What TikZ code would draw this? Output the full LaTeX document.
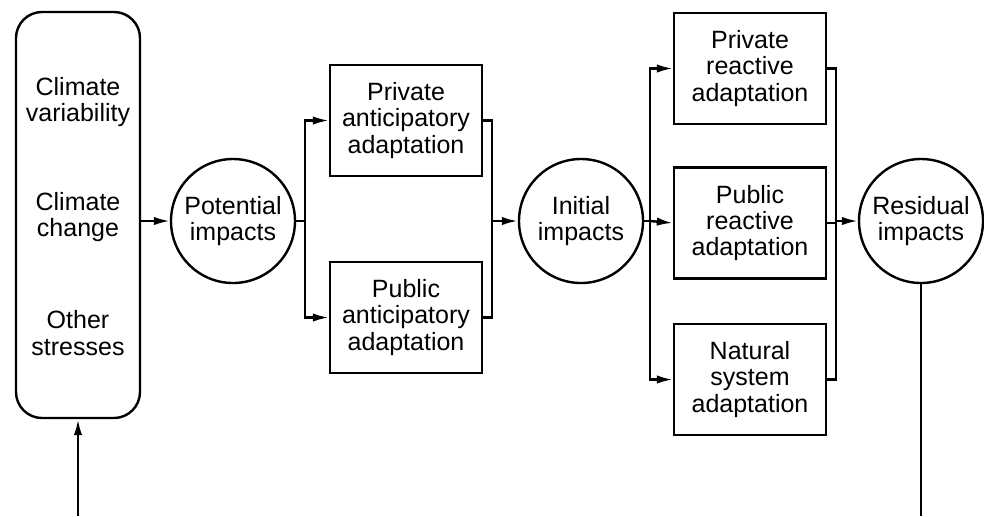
\documentclass[tikz,border=0pt]{standalone}
\usepackage{fontspec}
\setmainfont{Liberation Sans}
\usetikzlibrary{arrows.meta}

\tikzset{
	stage/.style={draw, line width=1.2pt, minimum width=76pt, minimum height=55.5pt, inner sep=0pt, align=center},
	impact/.style={draw, circle, line width=1.2pt, minimum size=62pt, inner sep=0pt, align=center},
	flow/.style={line width=1.2pt},
}

\begin{document}
\begin{tikzpicture}[x=0.5pt,y=-0.5pt, font=\fontsize{12.5}{13.2}\selectfont, >={Latex[length=8pt,width=4.2pt]}]
		\useasboundingbox (0,0) rectangle (984,516);
		% drivers
		\node[draw, rounded corners=13pt, line width=1.2pt, minimum width=62pt, minimum height=203pt] (drivers) at (78,215) {};
		\node[align=center] (variability) at (78,102) {Climate\\variability};
		\node[align=center] (change) at (78,217) {Climate\\change};
		\node[align=center] (stresses) at (78,333) {Other\\stresses};
		% impacts
		\node[impact] (potential) at (233,221) {Potential\\impacts};
		\node[impact] (initial) at (581,221) {Initial\\impacts};
		\node[impact] (residual) at (921,221) {Residual\\impacts};
		% adaptation
		\node[stage] (privA) at (406,120.5) {Private\\anticipatory\\adaptation};
		\node[stage] (pubA) at (406,317.5) {Public\\anticipatory\\adaptation};
		\node[stage] (privR) at (750,68.5) {Private\\reactive\\adaptation};
		\node[stage] (pubR) at (750,223) {Public\\reactive\\adaptation};
		\node[stage] (natR) at (750,379.5) {Natural\\system\\adaptation};
		% junctions
		\coordinate (jA) at (305,221);
		\coordinate (jB) at (492,221);
		\coordinate (jC) at (650,221);
		\coordinate (jD) at (836,221);
		\coordinate (fbR) at (921,516);
		\coordinate (fbL) at (78,516);
		% connectors
		\draw[flow,->] (drivers.east |- potential.west) -- (potential.west);
		\draw[flow,->] (potential.east) -- (jA) |- (privA.west);
		\draw[flow,->] (jA) |- (pubA.west);
		\draw[flow] (privA.east) -| (jB);
		\draw[flow] (pubA.east) -| (jB);
		\draw[flow,->] (jB) -- (initial.west);
		\draw[flow,->] (initial.east) -- (jC) |- (privR.west);
		\draw[flow,->] (jC) -- (pubR.west);
		\draw[flow,->] (jC) |- (natR.west);
		\draw[flow] (privR.east) -| (jD);
		\draw[flow] (natR.east) -| (jD);
		\draw[flow] (pubR.east) -- (pubR.east -| jD);
		\draw[flow,->] (jD) -- (residual.west);
		\draw[flow] (residual.south) -- (fbR);
		\draw[flow,->] (fbL) -- (drivers.south);
	\end{tikzpicture}
\end{document}
